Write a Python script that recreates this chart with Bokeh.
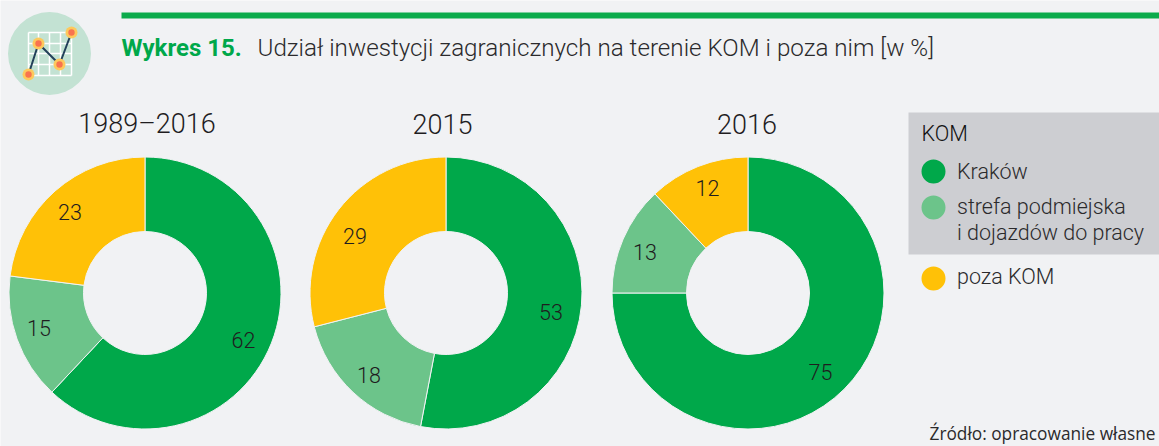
from math import pi
from bokeh.plotting import figure
from bokeh.embed import file_html
from bokeh.resources import INLINE
from bokeh.core.properties import value

titles = ["1989–2016", "2015", "2016"]
krakow = [62, 53, 75]
strefa = [15, 18, 13]
poza = [23, 29, 12]
legend_title = "KOM"
legend_labels = ["Kraków", "strefa podmiejska", "i dojazdów do pracy", "poza KOM"]
heading_bold = "Wykres 15."
heading = "Udział inwestycji zagranicznych na terenie KOM i poza nim [w %]"
source_note = "Źródło: opracowanie własne"

GREEN, LIGHT, YELLOW = "#00a84a", "#6cc48a", "#ffc107"
BG = "#f1f2f4"
FONT = value("Roboto")
LIGHTFONT = value("Roboto Light")
TXT = "#2b2a2c"

def Y(y):
    return 446 - y

p = figure(width=1159, height=446, x_range=(0, 1159), y_range=(0, 446),
           output_backend="svg", toolbar_location=None, min_border=0,
           background_fill_color=BG, border_fill_color=BG, outline_line_color=None)
p.axis.visible = False
p.grid.visible = False

# header
p.quad(left=[121], right=[1159], top=[Y(12)], bottom=[Y(18)], color="#0bab4c", line_color=None)
p.circle(x=[49], y=[Y(53)], radius=41.5, color="#c3e2d3", line_color=None)
for gx in [28, 38, 49, 60, 71]:
    p.segment(x0=[gx], y0=[Y(32)], x1=[gx], y1=[Y(75)], line_color="white", line_width=1.5)
for gy in [32, 43, 53, 64, 75]:
    p.segment(x0=[28], y0=[Y(gy)], x1=[71], y1=[Y(gy)], line_color="white", line_width=1.5)
ix, iy = [28, 38, 59, 71], [74, 43, 64, 32]
p.line(ix, [Y(v) for v in iy], line_color="#23405a", line_width=2)
p.circle(x=ix, y=[Y(v) for v in iy], radius=6, color="#fdc95c", line_color=None)
p.circle(x=ix, y=[Y(v) for v in iy], radius=3.2, color="#f8734f", line_color=None)
p.text(x=[121], y=[Y(47)], text=[heading_bold], text_font=FONT, text_font_style="bold",
       text_font_size="24px", text_color=GREEN, text_align="left", text_baseline="middle")
p.text(x=[257], y=[Y(47)], text=[heading], text_font=LIGHTFONT,
       text_font_size="24.2px", text_color=TXT, text_align="left", text_baseline="middle")

# donuts
centers = [144.5, 445.5, 747.5]
title_x = [146.5, 442, 746.5]
label_pos = [
    [(243, 339), (38.5, 327), (69.5, 211)],
    [(550.5, 311), (368.5, 374), (354.5, 235)],
    [(820, 371), (644.5, 251), (707, 187)],
]
colors = [GREEN, LIGHT, YELLOW]
for i, cx in enumerate(centers):
    vals = [krakow[i], strefa[i], poza[i]]
    a = pi / 2
    for v, c in zip(vals, colors):
        b = a - v / sum(vals) * 2 * pi
        p.annular_wedge(x=[cx], y=[Y(292.5)], inner_radius=61.5, outer_radius=136,
                        start_angle=[a], end_angle=[b], direction="clock",
                        fill_color=c, line_color=BG, line_width=1)
        a = b
    p.text(x=[title_x[i]], y=[Y(123)], text=[titles[i]], text_font=LIGHTFONT,
           text_font_size="27px", text_color="#1f1d1f", text_align="center", text_baseline="middle")
    for v, (lx, ly) in zip(vals, label_pos[i]):
        p.text(x=[lx], y=[Y(ly)], text=[str(v)], text_font=LIGHTFONT,
               text_font_size="21.5px", text_color="#1f1d1f", text_align="center", text_baseline="middle")

# legend
p.quad(left=[908], right=[1159], top=[Y(112)], bottom=[Y(254)], color="#cdced2", line_color=None)
p.text(x=[921], y=[Y(133)], text=[legend_title], text_font=LIGHTFONT, text_font_size="21.5px",
       text_color="#111111", text_align="left", text_baseline="middle")
p.circle(x=[933, 933, 933], y=[Y(171), Y(207), Y(278)], radius=12,
         color=[GREEN, LIGHT, YELLOW], line_color=None)
p.text(x=[956.5] * 4, y=[Y(171), Y(206), Y(232), Y(276)], text=legend_labels,
       text_font=LIGHTFONT, text_font_size="21.5px", text_color=TXT,
       text_align="left", text_baseline="middle")

# kept fully inside the picture (the reference crops this line at its bottom edge)
p.text(x=[929], y=[Y(433)], text=[source_note], text_font=value("Open Sans"),
       text_font_size="17.3px", text_color=TXT, text_align="left", text_baseline="middle")

open("out.html", "w").write(file_html(p, INLINE))
